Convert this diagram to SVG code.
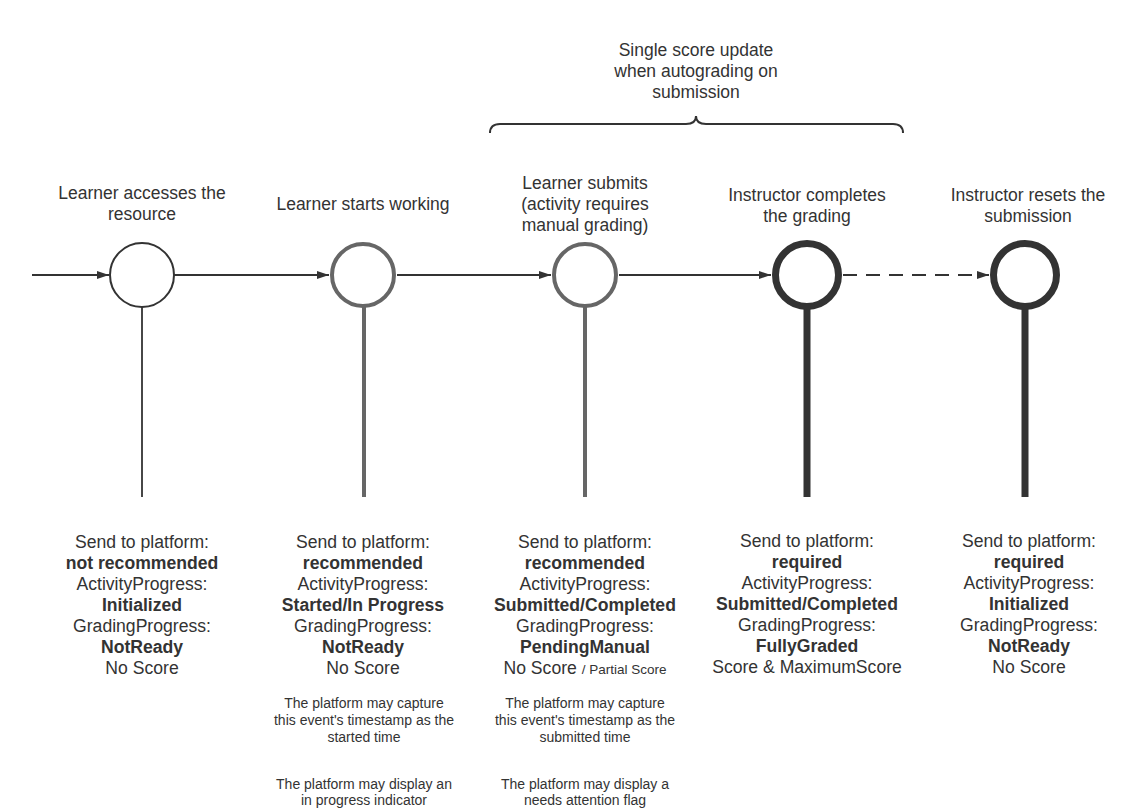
<svg xmlns="http://www.w3.org/2000/svg" width="1144" height="810" viewBox="0 0 1144 810">
<defs>
<marker id="ah" markerWidth="12" markerHeight="8" refX="12" refY="4" orient="auto" markerUnits="userSpaceOnUse">
<path d="M0,0 L12,4 L0,8 Z" fill="#333"/>
</marker>
<style>
text{font-family:"Liberation Sans",Arial,sans-serif;fill:#333;text-anchor:middle}
.t{font-size:17.5px}
.m{font-size:17.6px}
.b{font-weight:bold}
.s{font-size:14px}
.c{fill:#fff}
.n1{stroke:#333;stroke-width:2}
.n2{stroke:#666;stroke-width:4}
.n4{stroke:#333;stroke-width:7}
.conn{stroke:#333;stroke-width:1.8;fill:none}
</style>
</defs>
<rect width="1144" height="810" fill="#fff"/>
<g id="connectors">
<line class="conn" x1="32" y1="275" x2="109" y2="275" marker-end="url(#ah)"/>
<line class="conn" x1="174" y1="275" x2="329" y2="275" marker-end="url(#ah)"/>
<line class="conn" x1="397" y1="275" x2="551" y2="275" marker-end="url(#ah)"/>
<line class="conn" x1="619" y1="275" x2="771" y2="275" marker-end="url(#ah)"/>
<line class="conn" x1="843" y1="275" x2="989" y2="275" stroke-dasharray="14,9" marker-end="url(#ah)"/>
</g>
<g id="brace">
<path d="M490,133 Q490,124 500,124 L686,124 Q696,124 696,116 Q696,124 706,124 L893,124 Q903,124 903,133" fill="none" stroke="#333" stroke-width="2"/>
<text class="t" x="696" y="56">Single score update</text>
<text class="t" x="696" y="77">when autograding on</text>
<text class="t" x="696" y="98">submission</text>
</g>
<g id="node1">
<line x1="142" y1="307" x2="142" y2="497" stroke="#333" stroke-width="1.8"/>
<circle class="c n1" cx="142" cy="275" r="32"/>
<text class="t" x="142" y="199">Learner accesses the</text>
<text class="t" x="142" y="220">resource</text>
<text class="m" x="142" y="548">Send to platform:</text>
<text class="m b" x="142" y="569">not recommended</text>
<text class="m" x="142" y="590">ActivityProgress:</text>
<text class="m b" x="142" y="611">Initialized</text>
<text class="m" x="142" y="632">GradingProgress:</text>
<text class="m b" x="142" y="653">NotReady</text>
<text class="m" x="142" y="674">No Score</text>
</g>
<g id="node2">
<line x1="364" y1="307" x2="364" y2="497" stroke="#666" stroke-width="4"/>
<circle class="c n2" cx="363" cy="275" r="31"/>
<text class="t" x="363" y="210">Learner starts working</text>
<text class="m" x="363" y="548">Send to platform:</text>
<text class="m b" x="363" y="569">recommended</text>
<text class="m" x="363" y="590">ActivityProgress:</text>
<text class="m b" x="363" y="611">Started/In Progress</text>
<text class="m" x="363" y="632">GradingProgress:</text>
<text class="m b" x="363" y="653">NotReady</text>
<text class="m" x="363" y="674">No Score</text>
<text class="s" x="364" y="708">The platform may capture</text>
<text class="s" x="364" y="725">this event's timestamp as the</text>
<text class="s" x="364" y="742">started time</text>
<text class="s" x="364" y="789">The platform may display an</text>
<text class="s" x="364" y="805">in progress indicator</text>
</g>
<g id="node3">
<line x1="585" y1="307" x2="585" y2="497" stroke="#666" stroke-width="4"/>
<circle class="c n2" cx="585" cy="275" r="31"/>
<text class="t" x="585" y="189">Learner submits</text>
<text class="t" x="585" y="210">(activity requires</text>
<text class="t" x="585" y="231">manual grading)</text>
<text class="m" x="585" y="548">Send to platform:</text>
<text class="m b" x="585" y="569">recommended</text>
<text class="m" x="585" y="590">ActivityProgress:</text>
<text class="m b" x="585" y="611">Submitted/Completed</text>
<text class="m" x="585" y="632">GradingProgress:</text>
<text class="m b" x="585" y="653">PendingManual</text>
<text class="m" x="585" y="674">No Score <tspan style="font-size:13.5px">/ Partial Score</tspan></text>
<text class="s" x="585" y="708">The platform may capture</text>
<text class="s" x="585" y="725">this event's timestamp as the</text>
<text class="s" x="585" y="742">submitted time</text>
<text class="s" x="585" y="789">The platform may display a</text>
<text class="s" x="585" y="805">needs attention flag</text>
</g>
<g id="node4">
<line x1="807" y1="307" x2="807" y2="497" stroke="#333" stroke-width="7"/>
<circle class="c n4" cx="807" cy="275" r="31.5"/>
<text class="t" x="807" y="201">Instructor completes</text>
<text class="t" x="807" y="222">the grading</text>
<text class="m" x="807" y="547">Send to platform:</text>
<text class="m b" x="807" y="568">required</text>
<text class="m" x="807" y="589">ActivityProgress:</text>
<text class="m b" x="807" y="610">Submitted/Completed</text>
<text class="m" x="807" y="631">GradingProgress:</text>
<text class="m b" x="807" y="652">FullyGraded</text>
<text class="m" x="807" y="673">Score &amp; MaximumScore</text>
</g>
<g id="node5">
<line x1="1025" y1="307" x2="1025" y2="497" stroke="#333" stroke-width="7"/>
<circle class="c n4" cx="1025" cy="275" r="31.5"/>
<text class="t" x="1028" y="201">Instructor resets the</text>
<text class="t" x="1028" y="222">submission</text>
<text class="m" x="1029" y="547">Send to platform:</text>
<text class="m b" x="1029" y="568">required</text>
<text class="m" x="1029" y="589">ActivityProgress:</text>
<text class="m b" x="1029" y="610">Initialized</text>
<text class="m" x="1029" y="631">GradingProgress:</text>
<text class="m b" x="1029" y="652">NotReady</text>
<text class="m" x="1029" y="673">No Score</text>
</g>
</svg>
